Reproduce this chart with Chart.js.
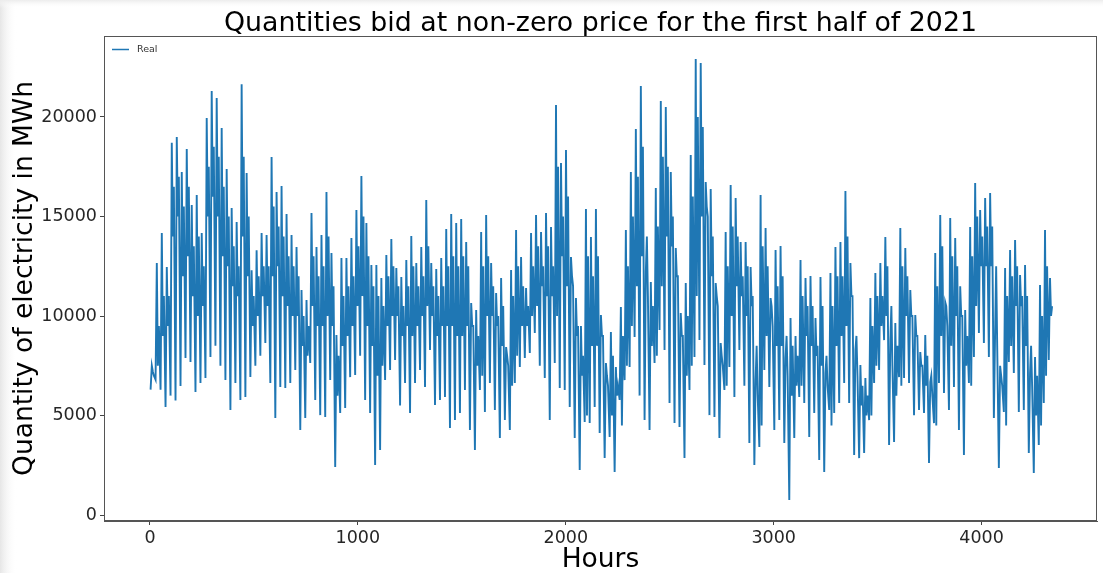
<!DOCTYPE html>
<html>
<head>
<meta charset="utf-8">
<script src="https://cdn.jsdelivr.net/npm/chart.js@4.4.1/dist/chart.umd.min.js"></script>
<style>
html,body{margin:0;padding:0;background:#fff;}
#wrap{width:1103px;height:573px;position:relative;}
</style>
</head>
<body>
<div id="wrap"><canvas id="c" width="1103" height="573"></canvas></div>
<script>
// Daily high (peak) values, one per day (hours 0..4343)
const dailyPeaks = [
  7500,12660,14170,12460,18700,19000,17240,18390,15580,16080,
  14170,19950,21300,20950,19450,17390,15430,14720,21650,17190,
  12300,13300,14170,14070,17990,16230,16530,15130,14070,13470,
  11310,10800,15180,13470,14070,16230,13170,9050,12910,12910,
  13920,15330,17040,14670,12560,12560,11910,13070,13870,12410,
  11960,12810,14020,12660,13470,15830,12660,12360,12910,14370,
  15130,14670,14870,13720,10650,10300,14220,15080,12660,11160,
  11910,8440,12310,14320,12960,11410,14170,15080,14220,15180,
  14470,20600,17690,18340,12960,10900,9500,15380,13970,15380,
  10050,7640,9200,7440,10450,14320,17240,19400,21560,12210,
  11710,16430,20800,20500,17240,13420,10150,11660,18090,22910,
  22710,16730,16380,11660,8640,14220,16580,15930,13720,13720,
  12460,6780,16080,14420,10900,13320,13520,7890,9900,9000,
  12810,11910,12010,9900,11960,7140,12160,13470,13720,16280,
  12660,8290,7540,6880,10900,12160,
  12660,13970,8790,9650,14420,13420,11310,10050,8190,9050,
  6680,13170,15080,10700,14920,13920,11500,10300,14470,16680,
  15330,15930,16180,9200,7500,12410,13320,13820,12060,12560,
  7140,7940,11560,14320,11910
];
// Second (evening) high of each day
const dailyShoulders = [
  7000,9500,11000,
  11000,16500,17000,15500,16500,13500,14000,12500,
  17500,18500,18000,16500,15000,13500,12500,18000,15000,
  11000,12000,12500,12500,15500,14500,14000,13000,12500,12000,10000,9500,13000,12000,12500,14000,11500,
  8000,11000,11500,12000,13500,15000,13000,11500,11000,10500,12000,12500,11500,
  10500,11500,12500,11500,12000,13500,11500,11000,11500,12500,13000,12500,13000,
  12500,9500,9000,12500,13000,11500,10000,10500,7500,11000,12500,11500,10500,
  12500,13500,12500,13500,12500,17500,15000,16000,
  11500,9500,8000,13000,12000,13000,9000,6500,8000,6500,9000,12500,15000,
  17000,18500,11000,10500,14500,18000,17500,15000,12000,9000,10000,16000,20000,19500,15000,14000,
  10500,7500,12500,14500,14000,12000,12500,11000,6000,13500,12500,9500,11500,12000,7000,
  8500,8000,11000,10500,10500,8500,10500,6500,10500,12000,12000,14000,11000,7000,6500,6000,9500,11000,
  11000,12500,7500,8500,12500,12000,10000,9000,7500,8000,6000,11500,13500,9500,13000,12500,10000,9000,
  13000,15000,14000,14500,14500,8500,6500,11000,12000,12500,11000,11000,6500,7000,10000,12500,10500
];
// Daily level of the dense middle band
const dailyMids = [
  7200,7500,9000,
  9500,14000,15000,12000,13000,11000,10000,10500,
  15000,16000,15000,13000,12500,11500,11000,14000,12000,
  9500,10000,11000,10500,12000,12500,11000,10500,10000,10000,8500,8000,10500,9500,9500,10000,9500,
  6000,8500,9000,9500,10500,11000,9500,8500,7000,7500,9500,10000,10000,
  9000,9500,9000,9500,10000,10500,10000,9000,9500,9500,9500,9000,9000,
  9500,9500,7500,7000,10000,10000,9500,8500,8000,6500,8000,9500,9500,
  10000,10500,11500,11000,11000,10000,13000,11500,
  12000,9000,7000,5000,8500,8500,9000,7000,5000,6000,4500,7500,9500,
  11500,13000,14000,8500,8000,11500,14000,13500,12000,9000,7000,7500,11000,15000,15500,12000,
  11000,8000,6500,10000,11500,11000,10000,10500,8500,4500,9000,10500,8500,8500,9000,
  6000,6500,6500,9000,8500,8000,7500,8000,4500,8500,9000,9500,11000,9000,5500,5000,5000,7500,9500,
  10000,10500,6000,6500,10000,10000,9000,7500,6500,7000,4500,9000,10500,8500,10000,10000,7500,
  6500,10500,12500,12500,12500,12500,7000,4500,8500,10500,10500,8500,8500,5000,4500,7000,10000
];
// Daily low (trough) values
const dailyTroughs = [
  6300,6800,6300,5430,6000,5760,6480,7890,7690,6180,
  6630,6880,7940,8500,7500,6780,5280,6630,5780,5930,
  6930,7500,8000,8640,6630,4870,6430,6380,6630,7290,
  4270,4870,7640,5780,5020,4920,6780,2410,5130,5380,
  6930,7040,8000,5780,5130,2510,3270,6780,7290,7790,
  5500,6630,5130,6630,7290,6430,8290,5530,5780,5930,
  4370,4770,5130,6280,4270,3270,6280,5180,6630,5280,
  3870,4770,4270,6630,7440,7890,8140,9150,7500,6880,
  4770,7640,6380,6280,5430,3870,2260,4670,4620,5430,
  4120,2860,3920,2160,5780,6780,7440,8950,6000,4770,
  4270,7640,9300,8290,5630,4620,4420,2860,6280,7940,
  8790,7540,5020,4920,3870,6280,7440,5930,8290,6500,
  3620,2510,3420,7290,6430,4270,4770,3620,750,3870,
  5930,5630,3920,5130,2760,2160,5280,5130,5630,6630,
  5630,3020,2860,3120,4770,6630,
  7290,8790,3520,3670,6930,6880,6630,5020,5280,5130,
  2610,4620,6630,6130,5280,6430,4270,3020,6630,7940,
  9150,8640,7940,4870,2360,5180,7690,7140,5180,5280,
  3120,2110,3520,5630,7790
];
const xTickValues = [0, 1000, 2000, 3000, 4000];
const yTickValues = [0, 5000, 10000, 15000, 20000];
const seriesName = 'Real';
const chartTitle = 'Quantities bid at non-zero price for the first half of 2021';
const xTitle = 'Hours';
const yTitle = 'Quantity of electricity in MWh';

const points = [];
for (let i = 0; i < dailyPeaks.length; i++) {
  points.push({x: i * 24 + 3, y: dailyTroughs[i]});
  points.push({x: i * 24 + 9, y: dailyPeaks[i]});
  points.push({x: i * 24 + 14, y: dailyMids[i]});
  points.push({x: i * 24 + 19, y: dailyShoulders[i]});
}

const FONT = "'DejaVu Sans', 'Liberation Sans', sans-serif";
const LINE_COLOR = '#1f77b4';

const bgPlugin = {
  id: 'bg',
  beforeDraw(chart) {
    const ctx = chart.ctx;
    ctx.save();
    ctx.fillStyle = '#ffffff';
    ctx.fillRect(0, 0, chart.width, chart.height);
    let g = ctx.createLinearGradient(0, 0, 17, 0);
    g.addColorStop(0, '#e6e6e6');
    g.addColorStop(1, 'rgba(255,255,255,0)');
    ctx.fillStyle = g;
    ctx.fillRect(0, 0, 17, chart.height);
    g = ctx.createLinearGradient(0, 0, 0, 8);
    g.addColorStop(0, '#ececec');
    g.addColorStop(1, 'rgba(255,255,255,0)');
    ctx.fillStyle = g;
    ctx.fillRect(0, 0, chart.width, 8);
    ctx.restore();
  }
};

const framePlugin = {
  id: 'frame',
  afterDraw(chart) {
    const a = chart.chartArea;
    const ctx = chart.ctx;
    ctx.save();
    ctx.strokeStyle = '#555';
    ctx.lineWidth = 1;
    ctx.strokeRect(Math.round(a.left) + 0.5, Math.round(a.top) + 0.5,
                   Math.round(a.right - a.left) - 1, Math.round(a.bottom - a.top) - 1);
    // legend inside axes, top-left
    const ly = Math.round(a.top) + 13.5;
    const lx = Math.round(a.left) + 8;
    ctx.strokeStyle = LINE_COLOR;
    ctx.lineWidth = 1.5;
    ctx.beginPath();
    ctx.moveTo(lx, ly);
    ctx.lineTo(lx + 17, ly);
    ctx.stroke();
    ctx.fillStyle = '#333';
    ctx.font = '9.5px ' + FONT;
    ctx.textBaseline = 'middle';
    ctx.textAlign = 'left';
    ctx.fillText(seriesName, lx + 25, ly);
    ctx.restore();
  }
};

new Chart(document.getElementById('c'), {
  type: 'line',
  data: {
    datasets: [{
      label: seriesName,
      data: points,
      borderColor: LINE_COLOR,
      backgroundColor: LINE_COLOR,
      borderWidth: 1.9,
      borderJoinStyle: 'miter',
      pointRadius: 0,
      tension: 0,
      fill: false
    }]
  },
  options: {
    responsive: false,
    animation: false,
    events: [],
    layout: {padding: {left: 0, right: 6, top: 0, bottom: 0}},
    plugins: {
      legend: {display: false},
      tooltip: {enabled: false},
      title: {
        display: true,
        text: chartTitle,
        fullSize: false,
        color: '#000',
        font: {family: FONT, size: 26.8, weight: 'normal', lineHeight: 1},
        padding: {top: 10.5, bottom: -1.3}
      }
    },
    scales: {
      x: {
        type: 'linear',
        min: -221,
        max: 4555,
        afterBuildTicks: s => { s.ticks = xTickValues.map(v => ({value: v})); },
        afterFit: s => { s.height = 52; },
        grid: {drawOnChartArea: false, drawTicks: true, tickLength: 4, color: '#444'},
        border: {display: true, color: '#555', width: 1},
        ticks: {
          font: {family: FONT, size: 17.5},
          color: '#262626',
          padding: 3,
          maxRotation: 0,
          autoSkip: false,
          callback: v => String(v)
        },
        title: {
          display: true,
          text: xTitle,
          color: '#000',
          font: {family: FONT, size: 26.5, lineHeight: 1.2},
          padding: {top: 0, bottom: -3}
        }
      },
      y: {
        type: 'linear',
        min: -300,
        max: 24070,
        afterBuildTicks: s => { s.ticks = yTickValues.map(v => ({value: v})); },
        afterFit: s => { s.width = 104; },
        grid: {drawOnChartArea: false, drawTicks: true, tickLength: 4, color: '#444'},
        border: {display: true, color: '#555', width: 1},
        ticks: {
          font: {family: FONT, size: 17.5},
          color: '#262626',
          padding: 3,
          autoSkip: false,
          callback: v => String(v)
        },
        title: {
          display: true,
          text: yTitle,
          color: '#000',
          font: {family: FONT, size: 26.5, lineHeight: 1.2},
          padding: {top: 9, bottom: 0}
        }
      }
    }
  },
  plugins: [bgPlugin, framePlugin]
});
</script>
</body>
</html>
